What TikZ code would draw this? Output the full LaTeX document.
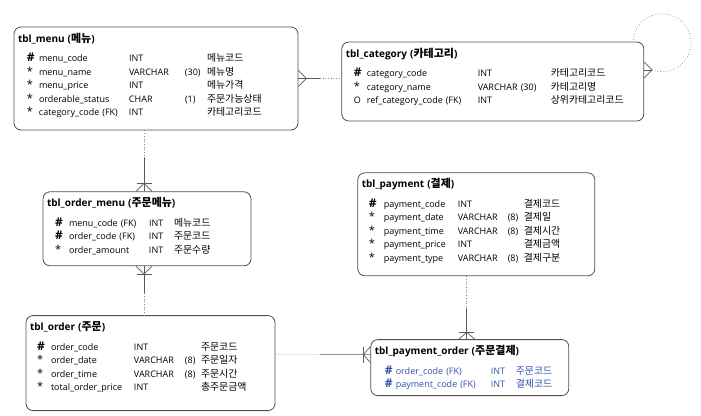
\documentclass[tikz,border=0pt]{standalone}
\usepackage{fontspec}
\setmainfont{Open Sans}
\newfontfamily\kr[Scale=1.1]{Noto Sans CJK KR}
\usepackage{xcolor}
\usetikzlibrary{positioning,calc}
\definecolor{boxgray}{RGB}{80,80,80}
\definecolor{linegray}{RGB}{90,90,90}
\definecolor{dotgray}{RGB}{130,130,130}
\definecolor{fkblue}{RGB}{50,80,170}
\newcommand{\pk}{{\fontsize{12}{12}\selectfont\textbf{\#}}}
\newcommand{\nn}{{\fontsize{11}{11}\selectfont *}}

\begin{document}
\begin{tikzpicture}[x=1pt, y=1pt,
    entity/.style={draw=boxgray, line width=0.8pt, rounded corners=7pt, fill=white, align=left,
        inner xsep=4pt, inner ysep=6pt, text height=9pt, font={\fontsize{9}{13.5}\selectfont}},
    rel/.style={draw=linegray, line width=0.7pt},
    opt/.style={draw=dotgray, line width=0.7pt, dotted}
]
    \useasboundingbox (0,0) rectangle (701,-415);

    % entities
    \node [entity, text width=276pt, text depth=82pt] (menu) at (156,-78.5) {%
        {\fontsize{10}{13.5}\selectfont\bfseries tbl\_menu ({\kr 메뉴})}\\[6pt]
        \begin{tabular}[t]{@{\hspace{9pt}}p{12pt}@{}p{90pt}@{}p{56pt}@{}p{22pt}@{}l@{}}
        \pk & menu\_code & INT & & {\kr 메뉴코드}\\
        \nn & menu\_name & VARCHAR & (30) & {\kr 메뉴명}\\
        \nn & menu\_price & INT & & {\kr 메뉴가격}\\
        \nn & orderable\_status & CHAR & (1) & {\kr 주문가능상태}\\
        \nn & category\_code (FK) & INT & & {\kr 카테고리코드}
        \end{tabular}};
    \node [entity, text width=294pt, text depth=58pt, right=43pt of menu, yshift=-3pt] (cat) {%
        {\fontsize{10}{13.5}\selectfont\bfseries tbl\_category ({\kr 카테고리})}\\[6pt]
        \begin{tabular}[t]{@{\hspace{8pt}}p{13pt}@{}p{111pt}@{}p{43pt}@{}p{30pt}@{}l@{}}
        \pk & category\_code & INT & & {\kr 카테고리코드}\\
        \nn & category\_name & VARCHAR & (30) & {\kr 카테고리명}\\
        O & ref\_category\_code (FK) & INT & & {\kr 상위카테고리코드}
        \end{tabular}};
    \node [entity, text width=200pt, text depth=53pt, below=61pt of menu, xshift=-9pt] (om) {%
        {\fontsize{10}{13.5}\selectfont\bfseries tbl\_order\_menu ({\kr 주문메뉴})}\\[6pt]
        \begin{tabular}[t]{@{\hspace{8pt}}p{14pt}@{}p{80pt}@{}p{25pt}@{}l@{}}
        \pk & menu\_code (FK) & INT & {\kr 메뉴코드}\\
        \pk & order\_code (FK) & INT & {\kr 주문코드}\\
        \nn & order\_amount & INT & {\kr 주문수량}
        \end{tabular}};
    \node [entity, text width=241pt, text depth=74pt, below=49pt of om, xshift=3.5pt] (order) {%
        {\fontsize{10}{13.5}\selectfont\bfseries tbl\_order ({\kr 주문})}\\[6pt]
        \begin{tabular}[t]{@{\hspace{7pt}}p{14pt}@{}p{83pt}@{}p{51pt}@{}p{16pt}@{}l@{}}
        \pk & order\_code & INT & & {\kr 주문코드}\\
        \nn & order\_date & VARCHAR & (8) & {\kr 주문일자}\\
        \nn & order\_time & VARCHAR & (8) & {\kr 주문시간}\\
        \nn & total\_order\_price & INT & & {\kr 총주문금액}
        \end{tabular}};
    \node [entity, text width=190pt, text depth=35pt, right=95pt of order, yshift=-4.5pt] (po) {%
        {\fontsize{10}{13.5}\selectfont\bfseries tbl\_payment\_order ({\kr 주문결제})}\\[6pt]
        \color{fkblue}\begin{tabular}[t]{@{\hspace{10pt}}p{11pt}@{}p{95pt}@{}p{25pt}@{}l@{}}
        \pk & order\_code (FK) & INT & {\kr 주문코드}\\
        \pk & payment\_code (FK) & INT & {\kr 결제코드}
        \end{tabular}};
    \node [entity, text width=229pt, text depth=82pt, above=63pt of po, xshift=6.5pt] (pay) {%
        {\fontsize{10}{13.5}\selectfont\bfseries tbl\_payment ({\kr 결제})}\\[6pt]
        \begin{tabular}[t]{@{\hspace{7pt}}p{15pt}@{}p{74pt}@{}p{50pt}@{}p{16pt}@{}l@{}}
        \pk & payment\_code & INT & & {\kr 결제코드}\\
        \nn & payment\_date & VARCHAR & (8) & {\kr 결제일}\\
        \nn & payment\_time & VARCHAR & (8) & {\kr 결제시간}\\
        \nn & payment\_price & INT & & {\kr 결제금액}\\
        \nn & payment\_type & VARCHAR & (8) & {\kr 결제구분}
        \end{tabular}};

    % menu -- category
    \coordinate (mc0) at (menu.east);
    \coordinate (mc1) at (menu.east -| cat.west);
    \draw [rel] (mc0) -- ($(mc0)!0.5!(mc1)$);
    \draw [opt] ($(mc0)!0.5!(mc1)$) -- (mc1);
    \draw [rel] ([yshift=8pt]mc0) -- ++(8,-8) -- ++(-8,-8);

    % category self reference
    \coordinate (cc0) at ([yshift=11.5pt]cat.east);
    \draw [rel] ([yshift=8pt]cc0) -- ++(8,-8) -- ++(-8,-8);
    \draw [rel] (cc0) -- ++(8,0) coordinate (cc1);
    \draw [opt] (cc1) arc[start angle=-110, end angle=178, radius=29];

    % menu -- order_menu
    \coordinate (mo1) at ([xshift=-3pt]om.north);
    \coordinate (mo0) at (mo1 |- menu.south);
    \draw [opt] (mo0) -- ($(mo0)!0.45!(mo1)$);
    \draw [rel] ($(mo0)!0.45!(mo1)$) -- (mo1);
    \draw [rel] ([xshift=-8pt]mo1) -- ++(8,8) -- ++(8,-8);
    \draw [rel] ([shift={(-7.5,8)}]mo1) -- ++(15,0);

    % order_menu -- order
    \coordinate (oo0) at ([xshift=-3pt]om.south);
    \coordinate (oo1) at (oo0 |- order.north);
    \draw [rel] (oo0) -- ($(oo0)!0.55!(oo1)$);
    \draw [opt] ($(oo0)!0.55!(oo1)$) -- (oo1);
    \draw [rel] ([xshift=-8pt]oo0) -- ++(8,-8) -- ++(8,8);
    \draw [rel] ([shift={(-7.5,-8)}]oo0) -- ++(15,0);

    % payment -- payment_order
    \coordinate (pp1) at ([xshift=-3pt]po.north);
    \coordinate (pp0) at (pp1 |- pay.south);
    \draw [opt] (pp0) -- ($(pp0)!0.5!(pp1)$);
    \draw [rel] ($(pp0)!0.5!(pp1)$) -- (pp1);
    \draw [rel] ([xshift=-8pt]pp1) -- ++(8,7) -- ++(8,-7);
    \draw [rel] ([shift={(-7.5,7)}]pp1) -- ++(15,0);

    % order -- payment_order
    \coordinate (op1) at ([yshift=13pt]po.west);
    \coordinate (op0) at (op1 -| order.east);
    \draw [opt] (op0) -- ($(op0)!0.47!(op1)$);
    \draw [rel] ($(op0)!0.47!(op1)$) -- (op1);
    \draw [rel] ([yshift=8pt]op1) -- ++(-7,-8) -- ++(7,-8);
    \draw [rel] ([shift={(-7,8)}]op1) -- ++(0,-16);

\end{tikzpicture}
\end{document}
